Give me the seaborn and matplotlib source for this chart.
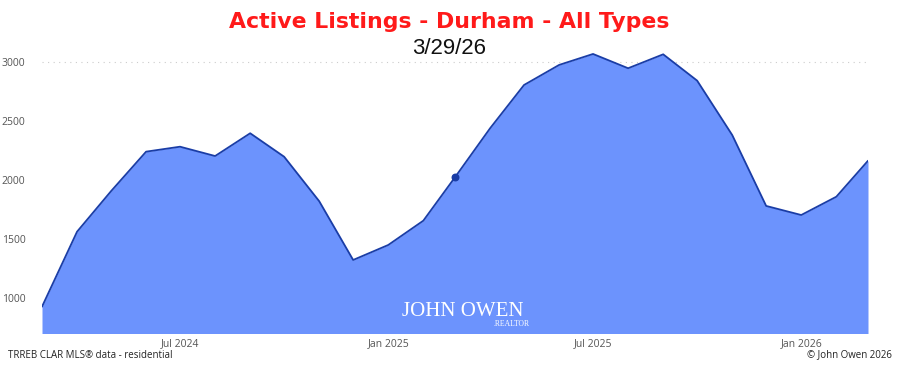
import matplotlib
matplotlib.use("Agg")
import matplotlib.pyplot as plt
import matplotlib.dates as mdates
import seaborn as sns
import pandas as pd
import numpy as np

# ---- data ----
months = pd.date_range("2024-03-01", "2026-03-01", freq="MS")
listings = [926, 1562, 1905, 2240, 2282, 2203, 2396, 2197, 1820, 1322,
            1449, 1655, 2023, 2438, 2805, 2975, 3068, 2947, 3065, 2842,
            2381, 1780, 1703, 1858, 2163]
highlight_month = pd.Timestamp("2025-03-01")
title = "Active Listings - Durham - All Types"
subtitle = "3/29/26"
y_ticks = [1000, 1500, 2000, 2500, 3000]
x_ticks = pd.to_datetime(["2024-07-01", "2025-01-01", "2025-07-01", "2026-01-01"])

df = pd.DataFrame({"month": months, "listings": listings})

sns.set_theme(style="white")
plt.rcParams["font.family"] = ["Liberation Sans", "DejaVu Sans"]

fig = plt.figure(figsize=(8.98, 3.65), dpi=100)
ax = fig.add_axes([42 / 898, 32 / 365, 826 / 898, 288 / 365])

fill_c = "#6c93fd"
line_c = "#1a3da6"
ax.fill_between(df["month"], 0, df["listings"], color=fill_c, linewidth=0, zorder=1)
sns.lineplot(data=df, x="month", y="listings", ax=ax, color=line_c, linewidth=1.3, zorder=3)
hl = df[df["month"] == highlight_month]
ax.scatter(hl["month"], hl["listings"], s=22, color=line_c, zorder=4)

ax.axhline(3000, color="#cccccc", linestyle=(0, (1, 4)), linewidth=0.8, zorder=0)

ax.set_xlim(df["month"].min(), df["month"].max())
ax.set_ylim(703, 3144)
ax.set_yticks(y_ticks)
ax.set_yticklabels([str(v) for v in y_ticks])
ax.set_xticks(x_ticks)
ax.xaxis.set_major_formatter(mdates.DateFormatter("%b %Y"))
ax.tick_params(axis="both", length=0, labelsize=7.5, colors="#555555")
ax.tick_params(axis="y", pad=12)
ax.tick_params(axis="x", pad=4)
for lab in ax.get_xticklabels() + ax.get_yticklabels():
    lab.set_family(["Open Sans", "DejaVu Sans"])
ax.set_xlabel("")
ax.set_ylabel("")
for s in ax.spines.values():
    s.set_visible(False)
ax.grid(False)

fig.text(0.5, 1 - 22 / 365, title, ha="center", va="center", color="#ff1a1a",
         fontsize=15.8, fontweight="bold", family=["DejaVu Sans"])
fig.text(0.5, 1 - 49 / 365, subtitle, ha="center", va="center", color="#111111",
         fontsize=16)

# watermark
fig.text(463 / 898, 1 - 312 / 365, "JOHN OWEN", ha="center", va="center", color="white",
         fontsize=15, family=["Liberation Serif", "DejaVu Serif"])
fig.text(530 / 898, 1 - 324 / 365, ".REALTOR", ha="right", va="center", color="white",
         fontsize=5.5, family=["Liberation Serif", "DejaVu Serif"])

fig.text(8 / 898, 1 - 355 / 365, "TRREB CLAR MLS\u00ae data - residential", ha="left",
         va="center", color="#222222", fontsize=7, family=["Open Sans", "DejaVu Sans"])
fig.text(892 / 898, 1 - 355 / 365, "\u00a9 John Owen 2026", ha="right",
         va="center", color="#222222", fontsize=7, family=["Open Sans", "DejaVu Sans"])

fig.savefig("out.png", dpi=100)
